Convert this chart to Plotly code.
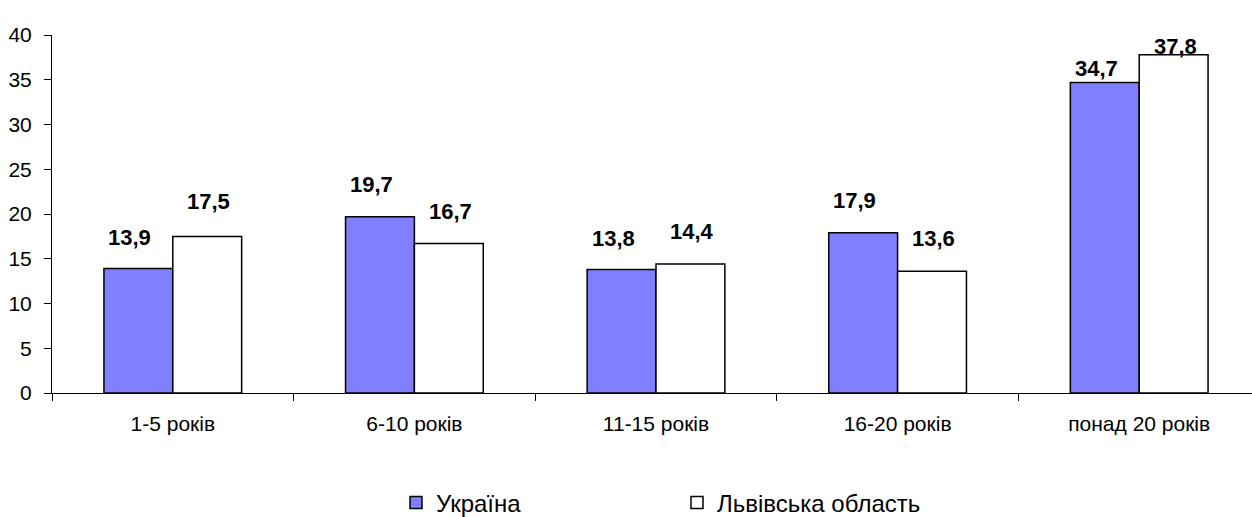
import plotly.graph_objects as go

categories = ["1-5 років", "6-10 років", "11-15 років", "16-20 років", "понад 20 років"]
ukraine = [13.9, 19.7, 13.8, 17.9, 34.7]
lviv = [17.5, 16.7, 14.4, 13.6, 37.8]
series_names = ["Україна", "Львівська область"]
y_ticks = [0, 5, 10, 15, 20, 25, 30, 35, 40]

# label placement tweaks (pixels)
ukr_label_yshift = [31, 32, 31, 32, 14]
lviv_label_yshift = [35, 32, 33, 33, 8]

fig = go.Figure()
fig.add_trace(go.Bar(x=categories, y=ukraine, name=series_names[0],
                     marker=dict(color="#8080FF", line=dict(color="black", width=1.5))))
fig.add_trace(go.Bar(x=categories, y=lviv, name=series_names[1],
                     marker=dict(color="white", line=dict(color="black", width=1.5))))

def fmt(v):
    return f"{v:.1f}".replace(".", ",")

anns = []
for i, c in enumerate(categories):
    anns.append(dict(x=c, y=ukraine[i], text=f"<b>{fmt(ukraine[i])}</b>", showarrow=False,
                     xshift=-43, yshift=ukr_label_yshift[i],
                     font=dict(family="Liberation Sans, Arial", size=22, color="black")))
    anns.append(dict(x=c, y=lviv[i], text=f"<b>{fmt(lviv[i])}</b>", showarrow=False,
                     xshift=36, yshift=lviv_label_yshift[i],
                     font=dict(family="Liberation Sans, Arial", size=22, color="black")))

W = 1260
fig.update_layout(
    width=W, height=517,
    margin=dict(l=52, r=0, t=35, b=124),
    paper_bgcolor="white", plot_bgcolor="white",
    barmode="group", bargap=0.43, bargroupgap=0,
    font=dict(family="Liberation Sans, Arial", size=21, color="black"),
    annotations=anns,
    showlegend=True,
    legend=dict(orientation="h", xref="container", x=396 / W, xanchor="left",
                yref="container", y=14 / 517, yanchor="middle",
                entrywidth=236, entrywidthmode="pixels",
                font=dict(size=24), itemclick=False),
    xaxis=dict(showline=True, linecolor="black", linewidth=1, ticks="outside",
               tickson="boundaries", ticklen=7, tickcolor="black", showgrid=False,
               tickfont=dict(size=21), automargin=False, ticklabelstandoff=12),
    yaxis=dict(range=[0, 40], tickvals=y_ticks, showline=True, linecolor="black", linewidth=1,
               ticks="outside", ticklen=7, tickcolor="black", showgrid=False, zeroline=False,
               tickfont=dict(size=21), automargin=False, ticklabelstandoff=8),
)

fig.write_html("out.html", config={"displayModeBar": False},
               post_script="document.body.style.margin='0';document.body.style.overflow='hidden';")
